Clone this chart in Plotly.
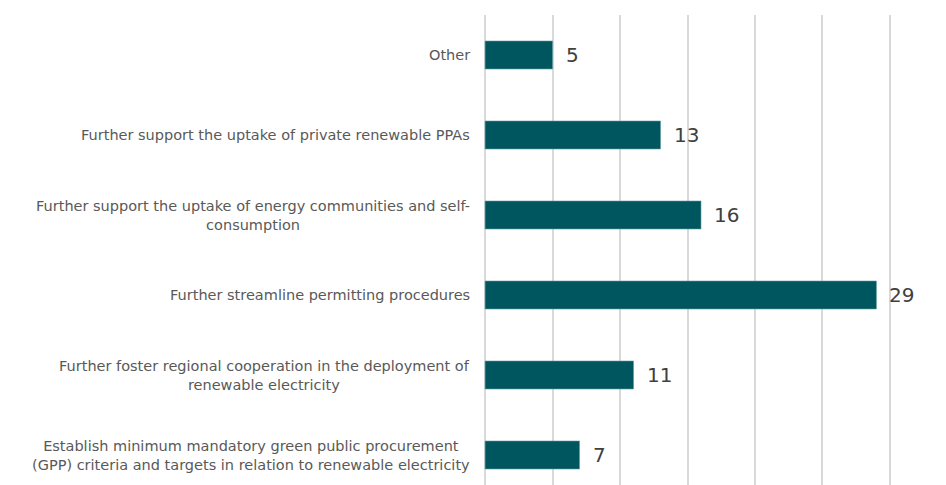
import plotly.graph_objects as go

categories = [
    "Establish minimum mandatory green public procurement<br>(GPP) criteria and targets in relation to renewable electricity",
    "Further foster regional cooperation in the deployment of<br>renewable electricity",
    "Further streamline permitting procedures",
    "Further support the uptake of energy communities and self-<br>consumption",
    "Further support the uptake of private renewable PPAs",
    "Other",
]
values = [7, 11, 29, 16, 13, 5]
x_ticks = [0, 5, 10, 15, 20, 25, 30]

bar_color = "#00565E"
positions = list(range(len(categories)))

fig = go.Figure()
fig.add_trace(go.Bar(
    x=values, y=positions, orientation="h",
    marker=dict(color=bar_color, line=dict(color="#5E9CA1", width=0.6)),
    width=0.35, hoverinfo="skip",
))

annotations = []
for p, c, v in zip(positions, categories, values):
    annotations.append(dict(
        x=0, y=p, xref="x", yref="y", text=c, showarrow=False,
        xanchor="right", yanchor="middle", align="center", xshift=-13,
        font=dict(family="DejaVu Sans", size=14.5, color="#595959"),
    ))
    annotations.append(dict(
        x=v, y=p, xref="x", yref="y", text=str(v), showarrow=False,
        xanchor="left", yanchor="middle", xshift=11,
        font=dict(family="DejaVu Sans", size=20, color="#404040"),
    ))

fig.update_layout(
    width=946, height=485,
    margin=dict(l=484, r=55, t=15, b=0),
    plot_bgcolor="white", paper_bgcolor="white",
    showlegend=False,
    annotations=annotations,
    xaxis=dict(range=[-0.08, 30.08], tickvals=x_ticks, showticklabels=False,
               showgrid=True, gridcolor="#D9D9D9", gridwidth=2,
               zeroline=False, showline=False, fixedrange=True),
    yaxis=dict(range=[-0.375, 5.5], showticklabels=False, showgrid=False,
               zeroline=False, showline=False, fixedrange=True),
)

fig.write_html("out.html", config={"displayModeBar": False},
               post_script="document.body.style.margin='0';")
